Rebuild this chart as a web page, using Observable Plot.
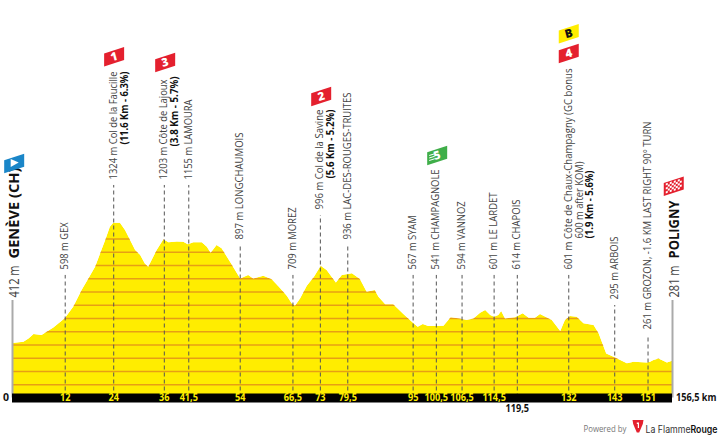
<!DOCTYPE html>
<html><head><meta charset="utf-8">
<style>html,body{margin:0;padding:0;background:#fff}svg{display:block}</style>
<script src="https://cdn.jsdelivr.net/npm/d3@7"></script>
<script src="https://cdn.jsdelivr.net/npm/@observablehq/plot@0.6"></script>
</head><body>
<script>
// Profile of the stage
const profileKm = [0,2.7,3.9,5.1,7,8.2,9.8,12.5,14.5,16.5,18.1,19.7,20.9,22.1,23.2,24,25.6,26.8,28,29.2,30.4,31.5,32.3,33.1,34.3,35.9,37.1,39.1,40.6,41.7,43,45,46.2,47.1,48.5,49.7,51.7,54.1,56,57.2,59.6,61.6,63.6,65.2,66.3,67.1,68.3,69.9,71.6,73.2,74.6,76.8,78.2,80.6,82.5,84.1,86,86.9,88.5,90.4,92.8,95.2,96.2,97.4,98.7,102.3,104,106.2,107.8,109.4,111,112.2,113.4,114.3,115.3,116,116.9,119.3,121.1,122.5,124,125.2,128,130,131.1,132.3,133.9,135.5,137.9,139.1,140.9,142.9,145.8,147.4,150.5,151.3,152.1,153.3,155.3,156.5];
const profileElev = [412,421,446,479,472,497,529,598,685,811,899,987,1088,1189,1289,1319,1319,1264,1189,1113,1075,1012,987,1038,1113,1194,1171,1178,1176,1156,1171,1171,1138,1093,1151,1126,1025,899,924,899,919,892,824,766,711,693,748,844,912,995,962,867,924,937,894,799,811,761,703,703,630,560,534,555,539,542,605,597,585,597,640,660,622,610,622,653,597,605,635,602,602,630,585,502,585,615,610,560,547,484,333,303,258,270,265,270,283,295,265,278];
const gridElev = [100,200,300,400,500,600,700,800,900,1000,1100,1200];

// Waypoints
const waypointKm    = [12.5,24,36,41.8,54,66.5,73,79.5,95,100.5,106.6,114.2,119.7,131.9,142.8,150.7];
const waypointTop   = [925,1604,1604,1604,1151,925,1377,1151,925,925,925,925,925,925,698,472];
const kmLabels      = ["12","24","36","41,5","54","66,5","73","79,5","95","100,5","106,5","114,5","","132","143","151"];
const waypointText  = ["598 m GEX","1324 m Col de la Faucille","1203 m Côte de Lajoux","1155 m LAMOURA","897 m LONGCHAUMOIS","709 m MOREZ","996 m Col de la Savine","936 m LAC-DES-ROUGES-TRUITES","567 m SYAM","541 m CHAMPAGNOLE","594 m VANNOZ","601 m LE LARDET","614 m CHAPOIS","601 m Côte de Chaux-Champagny (GC bonus","295 m ARBOIS","261 m GROZON, -1.6 KM LAST RIGHT 90° TURN"];
const waypointSpan  = [47,108,100,80,107,62,100,147,54,100,68,77,70,201,63,208];

// Continuation lines of the climb labels
const extraKm    = [24,36,73,131.9,131.9];
const extraTop   = [1604,1604,1377,925,925];
const extraText  = ["(11.6 Km - 6.3%)","(3.8 Km - 5.7%)","(5.6 Km - 5.2%)","600 m after KOM)","(1.9 Km - 5.6%)"];
const extraBold  = [true,true,true,false,true];
const extraLine  = [1,1,1,1,2];
const extraShift = [35,33,31,31,31];
const extraSpan  = [73,70,69,77,68];

// Badges
const badgeKm    = [0.4,24.1,36.2,73.2,100.7,131.9,131.9,156.8];
const badgeLevel = [1770,2575,2532,2275,1830,2749,2600,1598];
const badgeFill  = ["#1a86c8","#e4202e","#e4202e","#e4202e","#3fae49","#ffed00","#e4202e","#e4202e"];
const badgeText  = ["","1","3","2","5","B","4",""];
const badgeInk   = ["#fff","#fff","#fff","#fff","#fff","#111","#fff","#fff"];

const endKm   = [0,156.5];
const endAlt  = ["412 m","281 m"];
const endName = ["GENÈVE (CH)","POLIGNY"];
const endSpan = [91,58];

const ends = endKm.map((km,i)=>({km,top:736,alt:endAlt[i],name:endName[i],span:endSpan[i]}));
const profile = profileKm.map((km,i)=>({km,elev:profileElev[i]}));
const waypoints = waypointKm.map((km,i)=>({km,top:waypointTop[i],label:kmLabels[i],text:waypointText[i],span:waypointSpan[i]}));
const extras = extraKm.map((km,i)=>({km,top:extraTop[i],text:extraText[i],bold:extraBold[i],line:extraLine[i],shift:extraShift[i],span:extraSpan[i]}));
const badges = badgeKm.map((km,i)=>({km,level:badgeLevel[i],fill:badgeFill[i],text:badgeText[i],ink:badgeInk[i]}));

const para = {draw(c){c.moveTo(-10,-3.3);c.lineTo(10,-9.7);c.lineTo(10,3.3);c.lineTo(-10,9.7);c.closePath();}};
const triangle = {draw(c){c.moveTo(-3.5,-4.5);c.lineTo(4.5,-1);c.lineTo(-3.5,3.5);c.closePath();}};
const stripes = {draw(c){for(const y of [-1,1.5,4]){c.moveTo(-8,y+0.5);c.lineTo(-2.5,y-1.2);c.lineTo(-2.5,y-0.2);c.lineTo(-8,y+1.5);c.closePath();}}};
const checks = {draw(c){
  for(let i=0;i<8;i++)for(let j=0;j<5;j++){ if((i+j)%2) continue;
    const x=-8+i*2, y=-5+j*2-(x+1)*0.32;
    c.moveTo(x,y);c.lineTo(x+2,y-0.64);c.lineTo(x+2,y+1.36);c.lineTo(x,y+2);c.closePath();}
}};
const shield = {draw(c){c.moveTo(-5.5,-6);c.lineTo(5.5,-6);c.lineTo(4.8,-2);c.lineTo(1.2,6.5);c.lineTo(-1.2,6.5);c.lineTo(-4.8,-2);c.closePath();}};
const flame = {draw(c){c.moveTo(-1.2,-3.5);c.lineTo(1,-3.5);c.lineTo(1,2);c.lineTo(-0.2,2);c.lineTo(-0.2,-2);c.lineTo(-1.2,-2);c.closePath();}};

// Along-baseline fit of each text
const fit = (spanOf,after) => (index,scales,values,dims,ctx,next)=>{
  const g=next(index,scales,values,dims,ctx);
  d3.select(g).selectAll("text").each(function(i){
    this.setAttribute("textLength",spanOf(i));
    this.setAttribute("lengthAdjust","spacingAndGlyphs");
    if(after) after(this,i);
  });
  return g;
};
const squeeze = k => (index,scales,values,dims,ctx,next)=>{
  const g=next(index,scales,values,dims,ctx);
  d3.select(g).selectAll("text").each(function(){
    this.setAttribute("transform",(this.getAttribute("transform")||"")+` scale(${k},1)`);
  });
  return g;
};

const FONT = "'Open Sans'";
const INK = "#444";
const LABEL = 11;

const chart = Plot.plot({
  width:720, height:435,
  marginLeft:12, marginRight:48, marginTop:0, marginBottom:37.5,
  x:{domain:[0,156.5],axis:null},
  y:{domain:[0,3000],axis:null},
  color:{type:"identity"},
  style:{fontFamily:FONT,background:"#fff"},
  marks:[
    Plot.areaY(profile,{x:"km",y:"elev",fill:"#ffed00"}),
    Plot.ruleY(gridElev,{x1:0,x2:156.5,stroke:"#e79f14",strokeWidth:1.3}),
    Plot.areaY(profile,{x:"km",y1:"elev",y2:()=>3000,fill:"#fff"}),
    Plot.ruleX(waypoints,{x:"km",y1:0,y2:"top",stroke:"#555",strokeWidth:1,strokeDasharray:"4,3"}),
    Plot.ruleX(ends,{x:"km",y1:0,y2:"top",stroke:"#aaa",strokeWidth:2}),
    Plot.ruleY([0],{x1:0,x2:156.5,stroke:"#000",strokeWidth:9}),
    Plot.text(waypoints,{x:"km",y:0,text:"label",fill:"#ffed00",fontWeight:700,fontSize:10.5,render:squeeze(0.87)}),
    Plot.text(["119,5"],{x:()=>119.7,y:0,dy:11,fill:"#111",fontWeight:700,fontSize:10.5,render:squeeze(0.87)}),
    Plot.text(["0"],{x:()=>0,y:0,dx:-6.5,fill:"#111",fontWeight:700,fontSize:10.5}),
    Plot.text(["156,5 km"],{x:()=>156.5,y:0,dx:3.5,textAnchor:"start",fill:"#111",fontWeight:700,fontSize:10.5,render:squeeze(0.87)}),

    Plot.text(waypoints,{x:"km",y:"top",text:"text",rotate:-90,textAnchor:"start",lineAnchor:"middle",dx:-0.5,dy:-6,fill:INK,fontSize:LABEL,render:fit(i=>waypoints[i].span)}),
    Plot.text(extras,{x:"km",y:"top",text:"text",rotate:-90,textAnchor:"start",lineAnchor:"middle",
      dx:-0.5,dy:-6,fill:INK,fontSize:LABEL,
      render:fit(i=>extras[i].span,(el,i)=>{
        const d=extras[i];
        if(d.bold){el.setAttribute("font-weight","700");el.setAttribute("fill","#111");}
        el.setAttribute("transform",`translate(${10.8*d.line},${-d.shift}) ${el.getAttribute("transform")}`);
      })}),

    Plot.text(ends,{x:"km",y:"top",text:"alt",rotate:-90,textAnchor:"start",lineAnchor:"middle",dx:2,dy:-3,fill:INK,fontSize:14.5,render:fit(()=>32)}),
    Plot.text(ends,{x:"km",y:"top",text:"name",rotate:-90,textAnchor:"start",lineAnchor:"middle",dx:2,dy:-42,fill:"#111",fontWeight:700,fontSize:14.5,render:fit(i=>ends[i].span)}),

    Plot.dot(badges,{x:"km",y:"level",r:10,fill:"fill",symbol:para}),
    Plot.dot(badges.filter(d=>d.text==="" && d.km<1),{x:"km",y:"level",r:5,fill:"#fff",symbol:triangle}),
    Plot.dot(badges.filter(d=>d.text==="5"),{x:"km",y:"level",r:5,fill:"#fff",symbol:stripes}),
    Plot.dot(badges.filter(d=>d.text==="" && d.km>1),{x:"km",y:"level",r:5,fill:"#fff",symbol:checks}),
    Plot.text(badges,{x:"km",y:"level",text:"text",fill:"ink",fontWeight:800,fontSize:11.5,rotate:-15}),

    Plot.text(["Powered by"],{frameAnchor:"top-left",dx:571,dy:425,textAnchor:"start",fill:"#777",fontSize:9.5,render:fit(()=>43)}),
    Plot.dot([0],{frameAnchor:"top-left",dx:625.5,dy:425.5,r:5,fill:"#e4202e",symbol:shield}),
    Plot.dot([0],{frameAnchor:"top-left",dx:625.5,dy:425.5,r:5,fill:"#fff",symbol:flame}),
    Plot.text(["La FlammeRouge"],{frameAnchor:"top-left",dx:633,dy:425,textAnchor:"start",fill:"#333",fontSize:10,fontFamily:"Inter",
      render:fit(()=>72,el=>{
        el.textContent="";
        const a=document.createElementNS("http://www.w3.org/2000/svg","tspan");
        a.textContent="La Flamme";
        const b=document.createElementNS("http://www.w3.org/2000/svg","tspan");
        b.textContent="Rouge"; b.setAttribute("font-weight","600"); b.setAttribute("fill","#111");
        el.append(a,b);
      })})
  ]
});
document.body.appendChild(chart);
</script>
</body></html>
